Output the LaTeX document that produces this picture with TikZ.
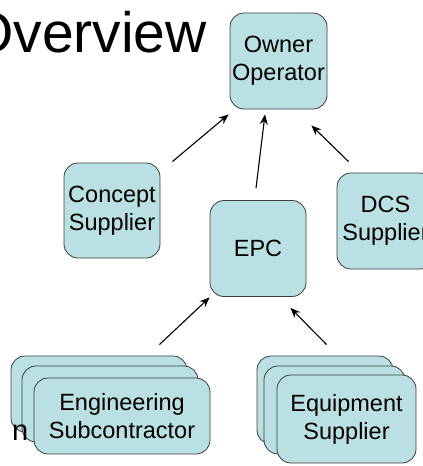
\documentclass[tikz,border=0pt]{standalone}
\usepackage{fontspec}
\setmainfont{Liberation Sans}
\usetikzlibrary{arrows.meta,calc}
\definecolor{boxfill}{RGB}{186,224,228}
\definecolor{boxline}{RGB}{60,60,60}
\tikzset{
  box/.style={draw=boxline, line width=0.8pt, fill=boxfill, rounded corners=14pt,
    inner sep=0pt, align=center, font=\fontsize{23.5}{28}\selectfont},
  arr/.style={-{Stealth[length=10pt,width=8pt]}, line width=1.1pt, black},
}
\begin{document}
\begin{tikzpicture}[x=1pt,y=-1pt]
\useasboundingbox (0,0) rectangle (423,466);
\begin{scope}
\clip (0,0) rectangle (423,466);
\node[anchor=base west, inner sep=0pt, font=\fontsize{57}{60}\selectfont] (title) at (-31,52) {Overview};

\node[box, minimum width=97pt, minimum height=96pt] (owner) at (278.5,61) {Owner\\Operator};
\node[box, minimum width=96pt, minimum height=95pt] (concept) at (112,210.5) {Concept\\Supplier};
\node[box, minimum width=96pt, minimum height=96pt] (epc) at (258,248.5) {EPC};
\node[box, minimum width=97pt, minimum height=96pt] (dcs) at (385.5,221) {DCS\\Supplier};

% Engineering subcontractor stack
\node[box, minimum width=176pt, minimum height=76pt] (engc) at (99,394) {};
\node[box, minimum width=176pt, minimum height=76pt] (engb) at (110,404) {};
\node[anchor=base west, inner sep=0pt, font=\fontsize{29}{30}\selectfont] (intext) at (12,440) {n};
\node[box, minimum width=176pt, minimum height=76pt] (eng) at (122,416) {Engineering\\Subcontractor};

% Equipment supplier stack
\node[box, minimum width=136pt, minimum height=88pt] (equc) at (325,400) {};
\node[box, minimum width=141pt, minimum height=88pt] (equb) at (334.5,410) {};
\node[box, minimum width=139pt, minimum height=88pt] (equ) at (346.5,419) {Equipment\\Supplier};
\end{scope}

\draw[arr] ([shift={(12,-1)}]concept.north east) -- ([shift={(-1,5)}]owner.south west);
\draw[arr] ([shift={(-2,-12)}]epc.north) -- ([shift={(-13.5,5)}]owner.south);
\draw[arr] ([shift={(12,-11)}]dcs.north west) -- ([shift={(-16,16)}]owner.south east);
\draw[arr] ([shift={(-51,-33)}]eng.north east) -- ([shift={(0,0.5)}]epc.south west);
\draw[arr] ([shift={(50,-30)}]equ.north west) -- ([shift={(-16,11)}]epc.south east);
\end{tikzpicture}
\end{document}
